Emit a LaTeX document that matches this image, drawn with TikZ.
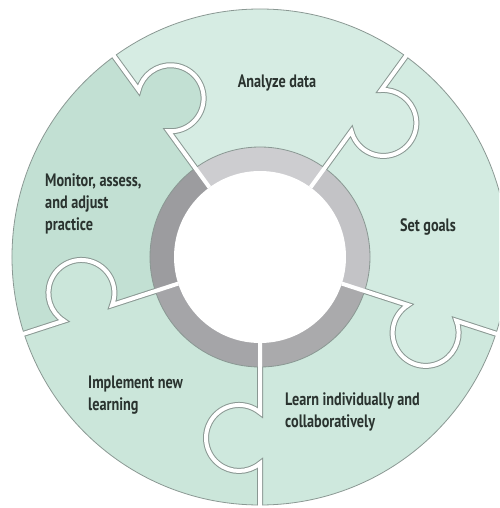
\documentclass[tikz,border=0pt]{standalone}
\usepackage{fontspec}
\setmainfont[FakeStretch=0.79]{PT Sans}
\usepackage{xcolor}
\usetikzlibrary{calc}

\definecolor{analyzefill}{HTML}{D6ECE3}
\definecolor{goalsfill}{HTML}{D3EBE1}
\definecolor{learnfill}{HTML}{CEE8DD}
\definecolor{implementfill}{HTML}{CBE6DA}
\definecolor{monitorfill}{HTML}{C2E0D3}
\definecolor{analyzering}{HTML}{CDCDD0}
\definecolor{goalsring}{HTML}{C3C3C6}
\definecolor{learnring}{HTML}{AAAAAC}
\definecolor{implementring}{HTML}{A5A5A8}
\definecolor{monitorring}{HTML}{9C9C9F}
\definecolor{edgegray}{HTML}{8A9893}
\definecolor{textgray}{HTML}{2A332F}

\begin{document}
\begin{tikzpicture}[x=1pt, y=1pt,
	gapedge/.style={draw=edgegray, line width=6pt},
	gapfill/.style={draw=white, line width=4pt},
	steptext/.style={text=textgray, align=left, inner sep=0pt, font=\fontsize{18}{22}\selectfont\bfseries}]
	\useasboundingbox (-260,-251) rectangle (239,257);
	\clip (-260,-251) rectangle (239,257);
	% pieces
	\fill [analyzefill] (0,0) -- (54:248) arc [start angle=54, end angle=126, radius=248] -- cycle;
	\fill [goalsfill] (0,0) -- (-18:248) arc [start angle=-18, end angle=54, radius=248] -- cycle;
	\fill [learnfill] (0,0) -- (-90:248) arc [start angle=-90, end angle=-18, radius=248] -- cycle;
	\fill [implementfill] (0,0) -- (198:248) arc [start angle=198, end angle=270, radius=248] -- cycle;
	\fill [monitorfill] (0,0) -- (126:248) arc [start angle=126, end angle=198, radius=248] -- cycle;
	% knobs
	\foreach \a/\c in {126/monitorfill, 54/analyzefill, -18/goalsfill, -90/learnfill, 198/implementfill}
		\fill [\c, rotate=\a] (181,-21) circle [radius=33];
	\foreach \a in {126, 54, -18, -90, 198}
		\draw [gapedge, rotate=\a] (110,0) -- (155.5,0) arc [start angle=140.5, end angle=399.5, radius=33] -- (248,0);
	% inner ring
	\fill [analyzering] (0,0) -- (54:110) arc [start angle=54, end angle=126, radius=110] -- cycle;
	\fill [goalsring] (0,0) -- (-18:110) arc [start angle=-18, end angle=54, radius=110] -- cycle;
	\fill [learnring] (0,0) -- (-90:110) arc [start angle=-90, end angle=-18, radius=110] -- cycle;
	\fill [implementring] (0,0) -- (198:110) arc [start angle=198, end angle=270, radius=110] -- cycle;
	\fill [monitorring] (0,0) -- (126:110) arc [start angle=126, end angle=198, radius=110] -- cycle;
	\draw [edgegray, line width=0.8pt] (0,0) circle [radius=110];
	\draw [edgegray, line width=0.8pt] (0,0) circle [radius=248];
	\foreach \a in {126, 54, -18, -90, 198}
		\draw [gapfill, rotate=\a] (86,0) -- (155.5,0) arc [start angle=140.5, end angle=399.5, radius=33] -- (249,0);
	\fill [white] (0,0) circle [radius=86];
	% labels
	\node [steptext] (analyze) at (17,174) {Analyze data};
	\node [steptext] (goals) at (168,30) {Set goals};
	\node [steptext, anchor=west] (learn) at (25,-155) {Learn individually and\\collaboratively};
	\node [steptext, anchor=west] (implement) at (-172,-138) {Implement new\\learning};
	\node [steptext, anchor=west] (monitor) at (-215,53) {Monitor, assess,\\and adjust\\practice};
\end{tikzpicture}
\end{document}
